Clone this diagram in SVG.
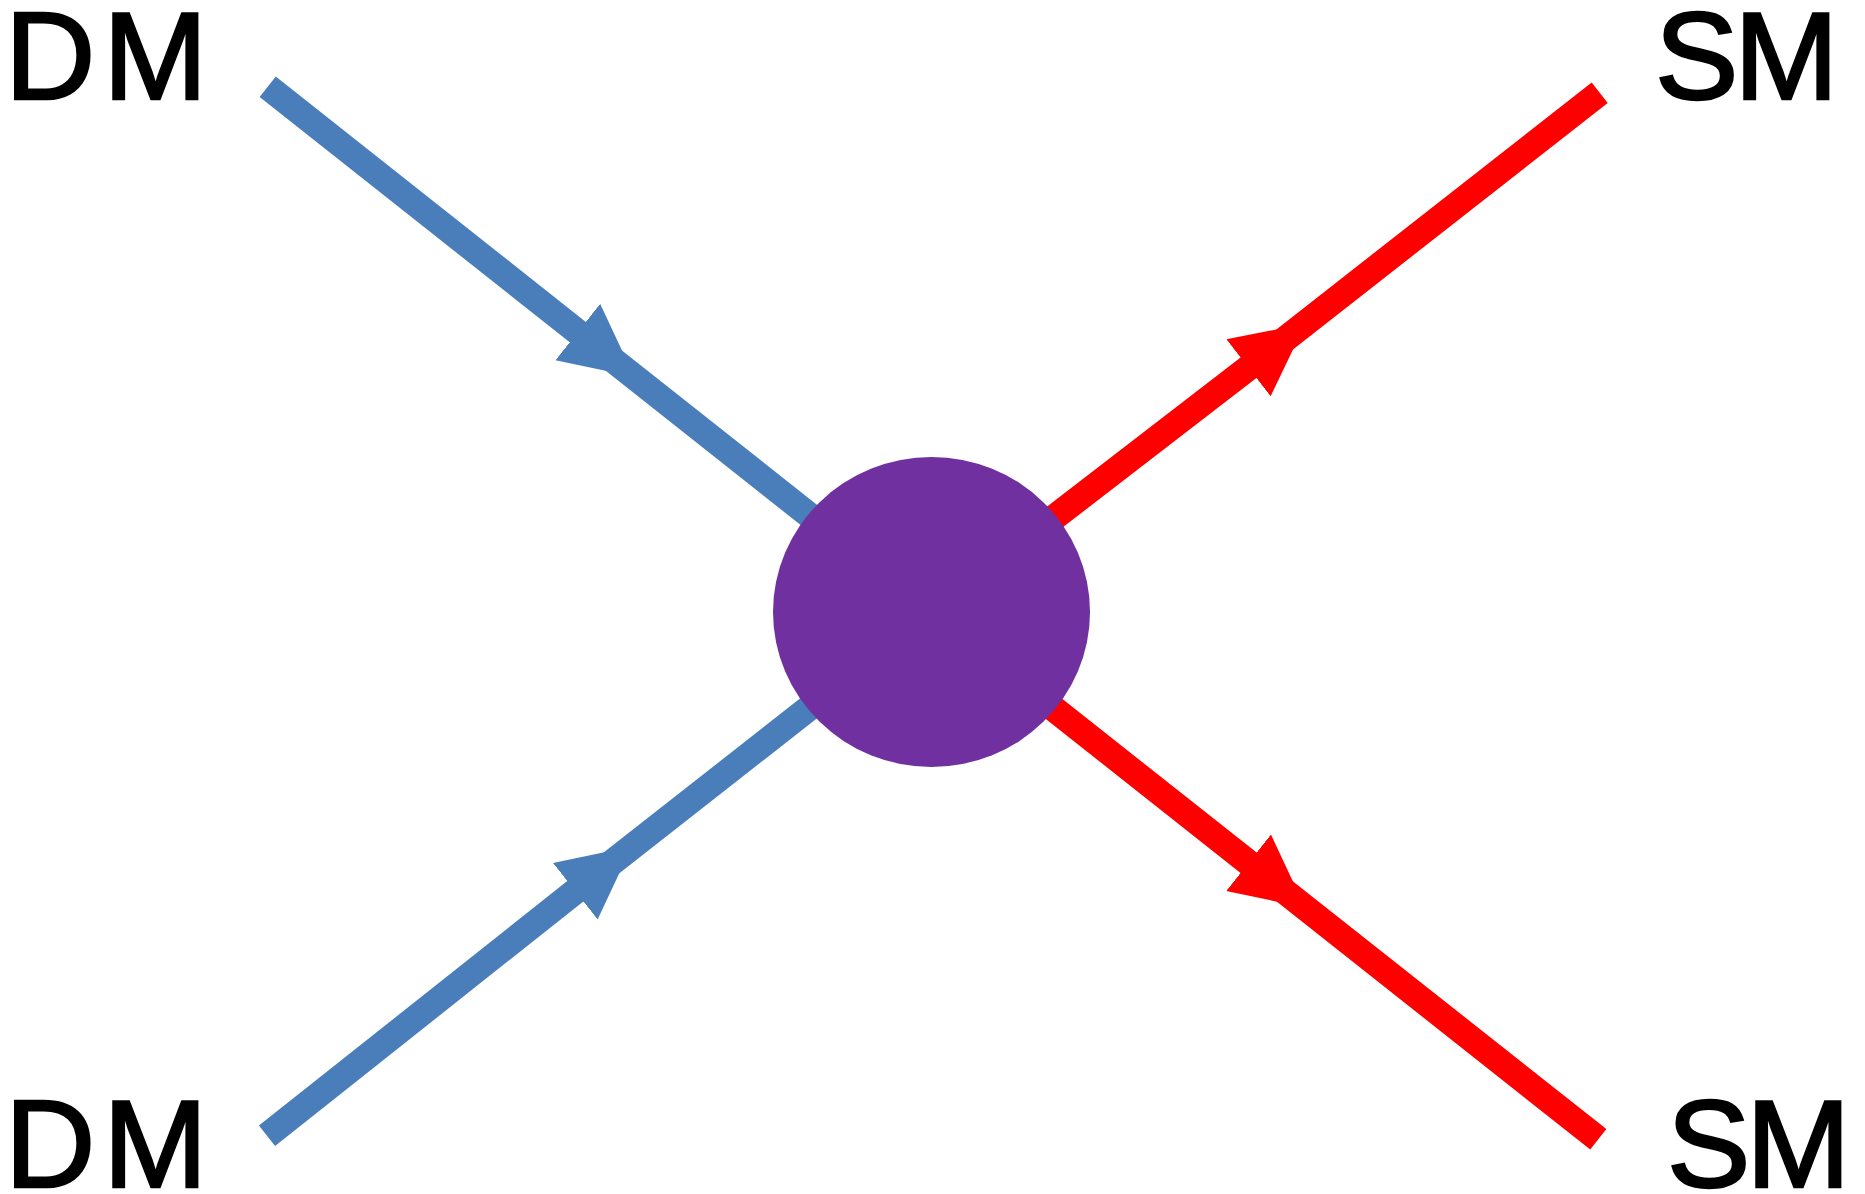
<svg xmlns="http://www.w3.org/2000/svg" width="1865" height="1194" viewBox="0 0 1865 1194">
  <style>
    .lbl { font-family: "Liberation Sans", Arial, sans-serif; font-size: 125px; fill: #000; stroke: #000; stroke-width: 2.5; }
    .dm { stroke: #4A7EBB; stroke-width: 26; fill: none; marker-mid: url(#arrBlue); }
    .sm { stroke: #FF0000; stroke-width: 26; fill: none; marker-mid: url(#arrRed); }
  </style>
  <defs>
    <marker id="arrBlue" markerUnits="userSpaceOnUse" markerWidth="80" markerHeight="80" refX="0" refY="37" orient="auto" viewBox="0 0 80 74">
      <polygon points="0,1 72,37 0,73" fill="#4A7EBB"/>
    </marker>
    <marker id="arrRed" markerUnits="userSpaceOnUse" markerWidth="80" markerHeight="80" refX="0" refY="37" orient="auto" viewBox="0 0 80 74">
      <polygon points="0,1 72,37 0,73" fill="#FF0000"/>
    </marker>
  </defs>
  <rect width="1865" height="1194" fill="#fff"/>
  <g id="connectors">
    <path class="dm" d="M267.7,86.7 L577.8,332.1 L931.5,612"/>
    <path class="dm" d="M267,1135.8 L575.3,891.2 L931.5,612"/>
    <path class="sm" d="M931.5,612 L1248.5,367.8 L1599.7,92.7"/>
    <path class="sm" d="M931.5,612 L1248.6,862.8 L1598.3,1139.3"/>
  </g>
  <g id="vertex">
    <ellipse cx="931.5" cy="612" rx="158.5" ry="155" fill="#7030A0"/>
  </g>
  <g id="dm-top"><text class="lbl" x="5" y="99" letter-spacing="8">DM</text></g>
  <g id="dm-bottom"><text class="lbl" x="5" y="1187" letter-spacing="8">DM</text></g>
  <g id="sm-top"><text class="lbl" x="1655" y="99" letter-spacing="-4">SM</text></g>
  <g id="sm-bottom"><text class="lbl" x="1667" y="1187" letter-spacing="-4">SM</text></g>
</svg>
